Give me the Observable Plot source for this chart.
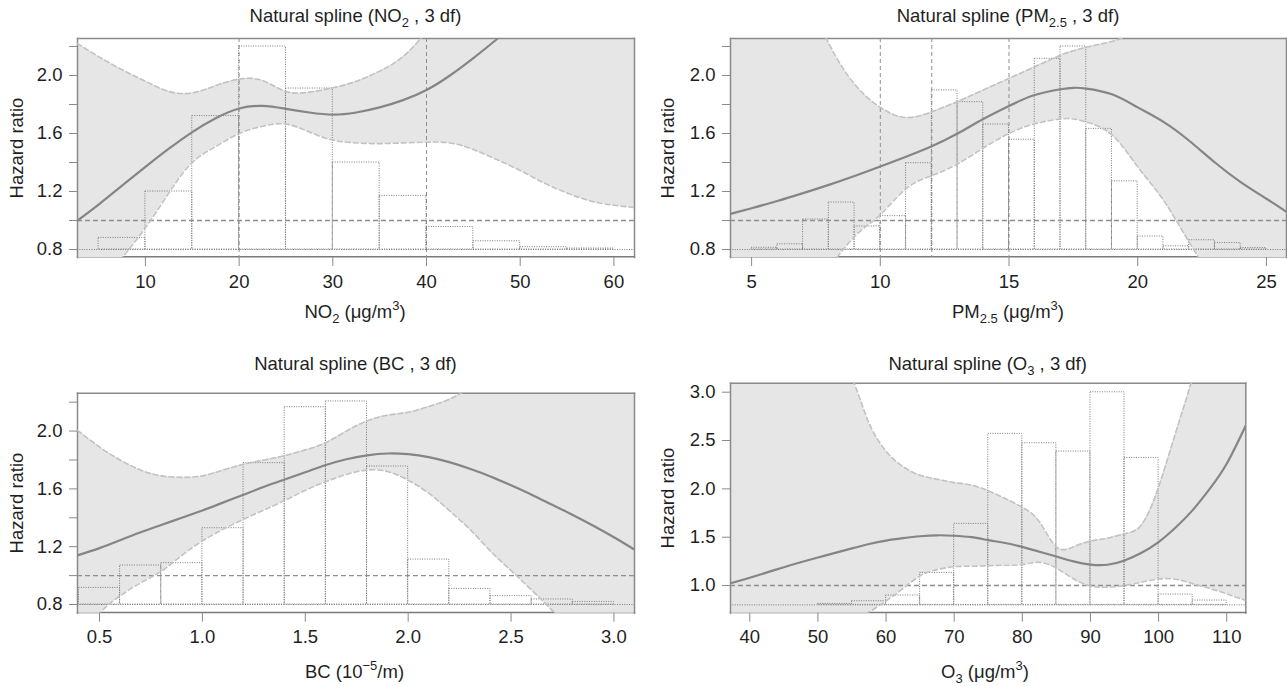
<!DOCTYPE html>
<html><head><meta charset="utf-8">
<script src="https://cdn.jsdelivr.net/npm/d3@7"></script>
<script src="https://cdn.jsdelivr.net/npm/@observablehq/plot@0.6"></script>
<style>
body{margin:0;background:#fff;}
#chart{position:relative;width:1287px;height:686px;overflow:hidden;font-family:'Liberation Sans',Arial,Helvetica,sans-serif;color:#1f1f1f;}
#chart svg{position:absolute;}
.lbl{position:absolute;white-space:nowrap;font-size:18.5px;line-height:1;transform:translateX(-50%);z-index:2;}
.ylab{position:absolute;white-space:nowrap;font-size:18.5px;line-height:1;transform:translate(-50%,-50%) rotate(-90deg);z-index:2;}
.sb{font-size:13px;position:relative;top:5px;}
.sp{font-size:13px;position:relative;top:-8px;}
</style></head><body><div id="chart"></div>
<script>
// ---------------- data ----------------
const histBase = 0.8;
const refHR = 1.0;

// NO2
const no2X     = [2.75, 5, 7.5, 10, 12.5, 15, 17.5, 20, 22.5, 25, 27.5, 30, 32.5, 35, 37.5, 40, 42.5, 45, 47.5, 50, 52.5, 55, 57.5, 60, 62.2];
const no2Fit   = [1.00, 1.11, 1.24, 1.37, 1.495, 1.61, 1.705, 1.772, 1.79, 1.77, 1.745, 1.73, 1.745, 1.78, 1.83, 1.90, 2.00, 2.12, 2.25, 2.39, 2.54, 2.69, 2.84, 2.99, 3.12];
const no2Upper = [2.22, 2.13, 2.04, 1.96, 1.89, 1.88, 1.93, 1.975, 1.965, 1.89, 1.885, 1.915, 1.96, 2.03, 2.13, 2.30, 2.50, 2.74, 3.0, 3.26, 3.52, 3.78, 4.04, 4.30, 4.50];
const no2Lower = [0.32, 0.52, 0.74, 0.95, 1.19, 1.40, 1.51, 1.60, 1.65, 1.665, 1.61, 1.555, 1.535, 1.53, 1.535, 1.54, 1.535, 1.49, 1.42, 1.345, 1.26, 1.19, 1.135, 1.105, 1.09];
const no2Edges = [5, 10, 15, 20, 25, 30, 35, 40, 45, 50, 55, 60];
const no2Hist  = [0.88, 1.20, 1.72, 2.20, 1.91, 1.40, 1.17, 0.955, 0.857, 0.816, 0.807];
const no2Marks = [20, 40];
const no2XTicks = [10, 20, 30, 40, 50, 60];

// PM2.5
const pmX     = [4.18, 5, 6, 7, 8, 9, 10, 11, 12, 13, 14, 15, 16, 17, 17.5, 18, 19, 20, 21, 22, 23, 24, 25, 25.78];
const pmFit   = [1.046, 1.085, 1.135, 1.189, 1.246, 1.307, 1.372, 1.44, 1.512, 1.60, 1.70, 1.79, 1.865, 1.905, 1.915, 1.91, 1.87, 1.78, 1.68, 1.55, 1.40, 1.265, 1.15, 1.06];
const pmUpper = [3.6, 3.3, 2.95, 2.6, 2.22, 1.94, 1.78, 1.71, 1.75, 1.82, 1.90, 1.98, 2.06, 2.14, 2.17, 2.195, 2.235, 2.31, 2.45, 2.62, 2.82, 3.05, 3.3, 3.5];
const pmLower = [0.0, 0.15, 0.35, 0.52, 0.68, 0.89, 1.04, 1.22, 1.31, 1.39, 1.50, 1.60, 1.667, 1.70, 1.70, 1.68, 1.59, 1.37, 1.14, 0.85, 0.58, 0.35, 0.15, 0.0];
const pmEdges = [5, 6, 7, 8, 9, 10, 11, 12, 13, 14, 15, 16, 17, 18, 19, 20, 21, 22, 23, 24, 25];
const pmHist  = [0.812, 0.836, 1.007, 1.124, 0.959, 1.03, 1.395, 1.897, 1.816, 1.662, 1.557, 2.115, 2.20, 1.632, 1.27, 0.89, 0.822, 0.864, 0.845, 0.81];
const pmMarks = [10, 12, 15];
const pmXTicks = [5, 10, 15, 20, 25];

// BC
const bcX     = [0.393, 0.5, 0.6, 0.7, 0.8, 0.9, 1.0, 1.1, 1.2, 1.3, 1.4, 1.5, 1.6, 1.7, 1.8, 1.9, 2.0, 2.1, 2.2, 2.3, 2.4, 2.5, 2.6, 2.7, 2.8, 2.9, 3.0, 3.1];
const bcFit   = [1.14, 1.19, 1.245, 1.30, 1.35, 1.40, 1.45, 1.505, 1.56, 1.615, 1.665, 1.715, 1.765, 1.805, 1.832, 1.845, 1.84, 1.82, 1.785, 1.739, 1.686, 1.625, 1.56, 1.49, 1.42, 1.345, 1.265, 1.18];
const bcUpper = [2.005, 1.89, 1.80, 1.73, 1.69, 1.68, 1.69, 1.73, 1.77, 1.80, 1.83, 1.87, 1.92, 2.00, 2.07, 2.11, 2.13, 2.17, 2.22, 2.30, 2.40, 2.52, 2.65, 2.80, 2.95, 3.10, 3.25, 3.40];
const bcLower = [0.55, 0.74, 0.86, 0.95, 1.03, 1.14, 1.24, 1.32, 1.39, 1.455, 1.52, 1.59, 1.65, 1.70, 1.73, 1.72, 1.66, 1.57, 1.45, 1.32, 1.17, 1.035, 0.90, 0.76, 0.62, 0.48, 0.34, 0.20];
const bcEdges = [0.4, 0.6, 0.8, 1.0, 1.2, 1.4, 1.6, 1.8, 2.0, 2.2, 2.4, 2.6, 2.8, 3.0];
const bcHist  = [0.915, 1.07, 1.086, 1.328, 1.778, 2.165, 2.205, 1.755, 1.111, 0.908, 0.858, 0.835, 0.818];
const bcMarks = [];
const bcXTicks = [0.5, 1.0, 1.5, 2.0, 2.5, 3.0];

// O3
const o3X     = [37.17, 40, 45, 50, 55, 57.5, 60, 62.5, 65, 67.5, 70, 72.5, 75, 77.5, 80, 82.5, 85, 87.5, 90, 92.5, 95, 97.5, 100, 102.5, 105, 107.5, 110, 112.8];
const o3Fit   = [1.024, 1.08, 1.19, 1.29, 1.385, 1.43, 1.465, 1.49, 1.51, 1.52, 1.515, 1.50, 1.47, 1.44, 1.40, 1.35, 1.30, 1.25, 1.217, 1.215, 1.26, 1.34, 1.45, 1.60, 1.78, 2.00, 2.26, 2.655];
const o3Upper = [8.0, 7.0, 5.2, 4.0, 3.15, 2.68, 2.39, 2.23, 2.14, 2.10, 2.065, 2.04, 1.98, 1.90, 1.81, 1.66, 1.40, 1.40, 1.46, 1.49, 1.535, 1.63, 2.02, 2.58, 3.15, 3.8, 4.5, 5.3];
const o3Lower = [0.20, 0.28, 0.42, 0.53, 0.64, 0.725, 0.84, 0.97, 1.10, 1.165, 1.195, 1.20, 1.205, 1.21, 1.217, 1.24, 1.18, 1.07, 0.995, 0.983, 1.0, 1.035, 1.068, 1.065, 1.02, 0.97, 0.914, 0.845];
const o3Edges = [50, 55, 60, 65, 70, 75, 80, 85, 90, 95, 100, 105, 110];
const o3Hist  = [0.81, 0.838, 0.897, 1.131, 1.638, 2.569, 2.472, 2.386, 2.999, 2.32, 0.907, 0.845];
const o3Marks = [];
const o3XTicks = [40, 50, 60, 70, 80, 90, 100, 110];

const hrTicks3 = [0.8, 1.0, 1.2, 1.4, 1.6, 1.8, 2.0, 2.2];
const hrLabeled3 = [0.8, 1.2, 1.6, 2.0];
const hrTicksO3 = [1.0, 1.5, 2.0, 2.5, 3.0];

// ---------------- drawing ----------------
const FONT = "'Liberation Sans', Arial, Helvetica, sans-serif";
const FRAME = "#8a8a8a", BAND = "#e6e6e6", EDGE = "#c2c2c2", FIT = "#858585", CURVE = "natural";
const chart = document.getElementById("chart");
const f1 = d3.format(".1f"), fi = d3.format("d");

function drawPanel(c) {
  const rows = c.x.map((v, i) => ({x: v, fit: c.fit[i], lo: c.lower[i], hi: c.upper[i]}));
  const bins = c.hist.map((t, i) => ({x1: c.edges[i], x2: c.edges[i + 1], y1: histBase, y2: t}));
  const svg = Plot.plot({
    width: c.w, height: c.h,
    marginLeft: c.ml, marginRight: c.mr, marginTop: c.mt, marginBottom: c.mb,
    x: {domain: c.xDomain}, y: {domain: c.yDomain},
    style: {fontFamily: FONT, fontSize: "18.5px", color: "#1f1f1f", background: "transparent", overflow: "visible"},
    marks: [
      Plot.frame({anchor: "bottom", stroke: "#7a7a7a", strokeWidth: 1.5, dy: -0.8}),
      Plot.areaY(rows, {x: "x", y1: "lo", y2: "hi", fill: BAND, curve: CURVE, clip: true}),
      Plot.frame({anchor: "top", stroke: FRAME, strokeWidth: 1.5}),
      Plot.frame({anchor: "left", stroke: FRAME, strokeWidth: 1.5}),
      Plot.frame({anchor: "right", stroke: FRAME, strokeWidth: 1.5}),
      Plot.ruleX(c.marks, {stroke: "#8f8f8f", strokeWidth: 1, strokeDasharray: "4,3"}),
      Plot.rect(bins, {x1: "x1", x2: "x2", y1: "y1", y2: "y2", fill: "none", stroke: "#7a7a7a", strokeWidth: 1, strokeDasharray: "1,1.4", clip: true}),
      Plot.ruleY([histBase], {stroke: "#7a7a7a", strokeWidth: 1, strokeDasharray: "1,1.4"}),
      Plot.ruleY([refHR], {stroke: "#8f8f8f", strokeWidth: 1.4, strokeDasharray: "5,3"}),
      Plot.line(rows, {x: "x", y: "lo", stroke: EDGE, strokeWidth: 1.6, strokeDasharray: "5,3", curve: CURVE, clip: true}),
      Plot.line(rows, {x: "x", y: "hi", stroke: EDGE, strokeWidth: 1.6, strokeDasharray: "5,3", curve: CURVE, clip: true}),
      Plot.line(rows, {x: "x", y: "fit", stroke: FIT, strokeWidth: 2.2, curve: CURVE, clip: true}),
      Plot.axisX(c.xTicks, {tickSize: 9, tickPadding: 8, tickFormat: c.xFmt, label: null, stroke: FRAME, fill: "#1f1f1f", fontSize: 18.5}),
      Plot.axisY(c.yTicks, {tickSize: 8, tickPadding: 7, tickFormat: d => c.yLabeled.includes(d) ? f1(d) : "", label: null, stroke: FRAME, fill: "#1f1f1f", fontSize: 18.5})
    ]
  });
  svg.style.left = c.left + "px";
  svg.style.top = c.top + "px";
  chart.appendChild(svg);
}

drawPanel({x: no2X, fit: no2Fit, lower: no2Lower, upper: no2Upper, edges: no2Edges, hist: no2Hist, marks: no2Marks,
  xTicks: no2XTicks, xFmt: fi, yTicks: hrTicks3, yLabeled: hrLabeled3,
  xDomain: [2.75, 62.2], yDomain: [0.745, 2.255],
  left: 0, top: 28, w: 640, h: 272, ml: 77, mr: 6, mt: 10, mb: 43});
drawPanel({x: pmX, fit: pmFit, lower: pmLower, upper: pmUpper, edges: pmEdges, hist: pmHist, marks: pmMarks,
  xTicks: pmXTicks, xFmt: fi, yTicks: hrTicks3, yLabeled: hrLabeled3,
  xDomain: [4.18, 25.78], yDomain: [0.745, 2.255],
  left: 645, top: 28, w: 642, h: 272, ml: 85, mr: 1, mt: 10, mb: 43});
drawPanel({x: bcX, fit: bcFit, lower: bcLower, upper: bcUpper, edges: bcEdges, hist: bcHist, marks: bcMarks,
  xTicks: bcXTicks, xFmt: f1, yTicks: hrTicks3, yLabeled: hrLabeled3,
  xDomain: [0.393, 3.10], yDomain: [0.74, 2.262],
  left: 0, top: 382, w: 640, h: 304, ml: 77, mr: 6, mt: 10.7, mb: 73.3});
drawPanel({x: o3X, fit: o3Fit, lower: o3Lower, upper: o3Upper, edges: o3Edges, hist: o3Hist, marks: o3Marks,
  xTicks: o3XTicks, xFmt: fi, yTicks: hrTicksO3, yLabeled: hrTicksO3,
  xDomain: [37.17, 112.8], yDomain: [0.714, 3.093],
  left: 645, top: 372, w: 642, h: 314, ml: 85, mr: 41.7, mt: 10.7, mb: 73.3});

// ---------------- text ----------------
function addLabel(cls, html, x, y) {
  const d = document.createElement("div");
  d.className = cls; d.innerHTML = html;
  d.style.left = x + "px"; d.style.top = y + "px";
  chart.appendChild(d);
}
addLabel("lbl", "Natural spline (NO<span class='sb'>2</span> , 3 df)", 355.5, 7);
addLabel("lbl", "Natural spline (PM<span class='sb'>2.5</span> , 3 df)", 1008, 7);
addLabel("lbl", "Natural spline (BC , 3 df)", 355.5, 355);
addLabel("lbl", "Natural spline (O<span class='sb'>3</span> , 3 df)", 987.7, 355);
addLabel("lbl", "NO<span class='sb'>2</span> (μg/m<span class='sp'>3</span>)", 355, 302.6);
addLabel("lbl", "PM<span class='sb'>2.5</span> (μg/m<span class='sp'>3</span>)", 1008, 302.6);
addLabel("lbl", "BC (10<span class='sp'>−5</span>/m)", 354.5, 662.6);
addLabel("lbl", "O<span class='sb'>3</span> (μg/m<span class='sp'>3</span>)", 985, 662.6);
addLabel("ylab", "Hazard ratio", 16.8, 147.5);
addLabel("ylab", "Hazard ratio", 667.5, 147.5);
addLabel("ylab", "Hazard ratio", 16.8, 502.7);
addLabel("ylab", "Hazard ratio", 667.5, 497.7);
</script></body></html>
